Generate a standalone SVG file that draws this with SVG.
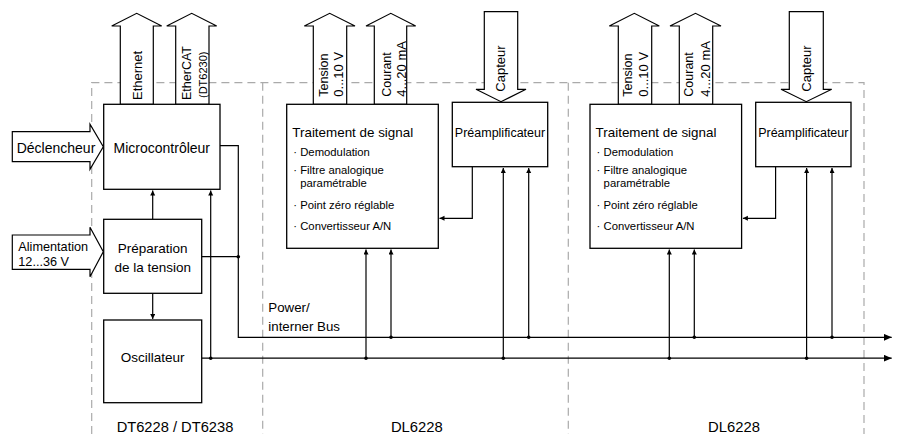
<svg xmlns="http://www.w3.org/2000/svg" width="898" height="434" viewBox="0 0 898 434">
<style>
text{font-family:"Liberation Sans",Arial,sans-serif;fill:#000}
.box{fill:#fff;stroke:#000;stroke-width:1.3}
.big{fill:#fff;stroke:#000;stroke-width:1.2;stroke-linejoin:miter}
.dash{fill:none;stroke:#aaa;stroke-width:1.2;stroke-dasharray:8 5}
.conn{fill:none;stroke:#000;stroke-width:1.2}
.dot{fill:#000}
.t14{font-size:14px}
.t135{font-size:13.5px}
.t13{font-size:13px}
.b{font-size:11.3px}
</style>
<defs>
<marker id="ah" markerUnits="userSpaceOnUse" markerWidth="6" markerHeight="6" refX="5" refY="2.5" orient="auto">
<path d="M0,0 L5,2.5 L0,5 z" fill="#000"/>
</marker>
<marker id="bh" markerUnits="userSpaceOnUse" markerWidth="9" markerHeight="8" refX="8" refY="3.5" orient="auto">
<path d="M0,0 L8,3.5 L0,7 z" fill="#000"/>
</marker>
</defs>

<g id="frames">
<path class="dash" d="M91.7,434 V82.7 H864 V434 M262.7,82.7 V434 M568.3,82.7 V434"/>
</g>

<g id="connectors">
<path class="conn" d="M152.7,219.3 V190.5" marker-end="url(#ah)"/>
<path class="conn" d="M152.7,293.3 V319" marker-end="url(#ah)"/>
<path class="conn" d="M220,145.7 H238.3 V337.3 H891.7" marker-end="url(#bh)"/>
<path class="conn" d="M201.7,256.7 H238.3"/>
<path class="conn" d="M201.7,358.2 H891.7" marker-end="url(#bh)"/>
<path class="conn" d="M210.7,358.2 V190.5" marker-end="url(#ah)"/>
<path class="conn" d="M366,358.2 V249.5" marker-end="url(#ah)"/>
<path class="conn" d="M391,337.3 V249.5" marker-end="url(#ah)"/>
<path class="conn" d="M503.3,358.2 V168" marker-end="url(#ah)"/>
<path class="conn" d="M528.7,337.3 V168" marker-end="url(#ah)"/>
<path class="conn" d="M472.3,166.7 V218.3 H439.5" marker-end="url(#ah)"/>
<path class="conn" d="M669.3,358.2 V249.5" marker-end="url(#ah)"/>
<path class="conn" d="M694.3,337.3 V249.5" marker-end="url(#ah)"/>
<path class="conn" d="M806.6,358.2 V168" marker-end="url(#ah)"/>
<path class="conn" d="M832,337.3 V168" marker-end="url(#ah)"/>
<path class="conn" d="M775.6,166.7 V218.3 H742.9" marker-end="url(#ah)"/>
<circle class="dot" cx="238.3" cy="256.7" r="1.8"/>
<circle class="dot" cx="210.7" cy="358.2" r="1.8"/>
<circle class="dot" cx="366" cy="358.2" r="1.8"/>
<circle class="dot" cx="391" cy="337.3" r="1.8"/>
<circle class="dot" cx="503.3" cy="358.2" r="1.8"/>
<circle class="dot" cx="528.7" cy="337.3" r="1.8"/>
<circle class="dot" cx="669.3" cy="358.2" r="1.8"/>
<circle class="dot" cx="694.3" cy="337.3" r="1.8"/>
<circle class="dot" cx="806.6" cy="358.2" r="1.8"/>
<circle class="dot" cx="832" cy="337.3" r="1.8"/>
</g>

<g id="ethernet">
<polygon class="big" points="120.3,104.3 120.3,26 111.7,26 136.7,13.3 161.7,26 153.3,26 153.3,104.3"/>
<text class="t13" transform="translate(141.7,100) rotate(-90)">Ethernet</text>
</g>
<g id="ethercat">
<polygon class="big" points="175.7,104.3 175.7,26 166.7,26 191.7,13.3 216.7,26 209,26 209,104.3"/>
<text font-size="12.5" transform="translate(190.7,100) rotate(-90)">EtherCAT</text>
<text font-size="11" transform="translate(206.5,98) rotate(-90)">(DT6230)</text>
</g>
<g id="declencheur">
<polygon class="big" points="12.3,131.7 90,131.7 90,124.3 103.3,146.7 90,169.3 90,161.7 12.3,161.7"/>
<text class="t14" x="16.7" y="152.5">Déclencheur</text>
</g>
<g id="alimentation">
<polygon class="big" points="12.3,235 90,235 90,227.3 103.3,251.7 90,276.7 90,269.3 12.3,269.3"/>
<text font-size="12.7" x="18.3" y="250.7">Alimentation</text>
<text font-size="12.7" x="18.3" y="265.7">12...36 V</text>
</g>
<g id="microcontroleur">
<rect class="box" x="103.7" y="104.3" width="116.3" height="85"/>
<text class="t14" x="161.8" y="152.5" text-anchor="middle">Microcontrôleur</text>
</g>
<g id="preparation">
<rect class="box" x="103.7" y="219.3" width="98" height="74"/>
<text class="t135" x="152.7" y="252.7" text-anchor="middle">Préparation</text>
<text class="t135" x="152.7" y="271.7" text-anchor="middle">de la tension</text>
</g>
<g id="oscillateur">
<rect class="box" x="103.7" y="320" width="98" height="82.7"/>
<text class="t135" x="152.7" y="361.7" text-anchor="middle">Oscillateur</text>
</g>

<g id="tension1">
<polygon class="big" points="313.3,104.3 313.3,26 304.3,26 329.7,13.3 355,26 346.7,26 346.7,104.3"/>
<text font-size="12.5" transform="translate(328.3,96.7) rotate(-90)">Tension</text>
<text font-size="13" transform="translate(343.3,96.7) rotate(-90)">0...10 V</text>
</g>
<g id="courant1">
<polygon class="big" points="374.3,104.3 374.3,26 366,26 390.8,13.3 415.7,26 406.7,26 406.7,104.3"/>
<text font-size="12.5" transform="translate(390.5,96.7) rotate(-90)">Courant</text>
<text font-size="13" transform="translate(405.7,96.7) rotate(-90)">4...20 mA</text>
</g>
<g id="capteur1">
<polygon class="big" points="484.3,11.7 517.7,11.7 517.7,89.3 526,89.3 501,101.7 476,89.3 484.3,89.3"/>
<text class="t13" transform="translate(505,91.7) rotate(-90)">Capteur</text>
</g>
<g id="traitement1">
<rect class="box" x="286.7" y="104.3" width="151.6" height="144"/>
<text font-size="13.4" x="292.3" y="137.3">Traitement de signal</text>
<text class="b" x="293.3" y="156">· Demodulation</text>
<text class="b" x="293.3" y="174.3">· Filtre analogique</text>
<text class="b" x="300.3" y="186.5">paramétrable</text>
<text class="b" x="293.3" y="209.3">· Point zéro réglable</text>
<text class="b" x="293.3" y="230">· Convertisseur A/N</text>
</g>
<g id="preamp1">
<rect class="box" x="452.3" y="102.3" width="95.4" height="64.4"/>
<text font-size="12.5" x="500" y="136.7" text-anchor="middle">Préamplificateur</text>
</g>

<g id="tension2">
<polygon class="big" points="618.3,104.3 618.3,26 609.3,26 634.3,13.3 659.3,26 651.7,26 651.7,104.3"/>
<text font-size="12.5" transform="translate(631.7,96.7) rotate(-90)">Tension</text>
<text font-size="13" transform="translate(648,96.7) rotate(-90)">0...10 V</text>
</g>
<g id="courant2">
<polygon class="big" points="679.3,104.3 679.3,26 670,26 695.5,13.3 721,26 712.7,26 712.7,104.3"/>
<text font-size="12.5" transform="translate(693.3,96.7) rotate(-90)">Courant</text>
<text font-size="13" transform="translate(710,96.7) rotate(-90)">4...20 mA</text>
</g>
<g id="capteur2">
<polygon class="big" points="789.3,11.7 823.3,11.7 823.3,89.3 831.7,89.3 806.3,101.7 781,89.3 789.3,89.3"/>
<text class="t13" transform="translate(811.2,91.7) rotate(-90)">Capteur</text>
</g>
<g id="traitement2">
<rect class="box" x="590" y="104.3" width="151.6" height="144"/>
<text font-size="13.4" x="595.6" y="137.3">Traitement de signal</text>
<text class="b" x="596.6" y="156">· Demodulation</text>
<text class="b" x="596.6" y="174.3">· Filtre analogique</text>
<text class="b" x="603.6" y="186.5">paramétrable</text>
<text class="b" x="596.6" y="209.3">· Point zéro réglable</text>
<text class="b" x="596.6" y="230">· Convertisseur A/N</text>
</g>
<g id="preamp2">
<rect class="box" x="755.7" y="102.3" width="95.3" height="64.4"/>
<text font-size="12.5" x="803.3" y="136.7" text-anchor="middle">Préamplificateur</text>
</g>

<g id="labels">
<text font-size="13.3" x="268.3" y="311.7">Power/</text>
<text font-size="13.3" x="268.3" y="330.7">interner Bus</text>
<text font-size="14.7" x="175" y="431.7" text-anchor="middle">DT6228 / DT6238</text>
<text font-size="14.8" x="416.8" y="431.7" text-anchor="middle">DL6228</text>
<text font-size="14.8" x="734" y="431.7" text-anchor="middle">DL6228</text>
</g>
</svg>
